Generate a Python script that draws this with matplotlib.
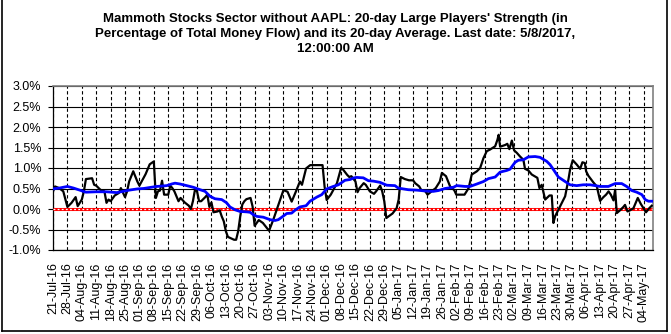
import numpy as np
import pandas as pd
import matplotlib
matplotlib.use('Agg')
import matplotlib.pyplot as plt
import matplotlib.dates as mdates
from matplotlib.lines import Line2D

plt.rcParams['font.family'] = ['Liberation Sans', 'DejaVu Sans']

first_date = pd.Timestamp('2016-07-21')
last_date = pd.Timestamp('2017-05-08')

# 20-day large players' strength (% of total money flow), days after first_date
strength_day = [0, 1, 3, 5, 7, 9, 11, 12, 14, 15, 16, 19, 20, 21, 23, 25, 26, 27, 28, 30,
                32, 33, 35, 36, 37, 39, 41, 42, 45, 47, 49, 50, 51, 52, 53, 54, 56, 57, 58, 59,
                61, 62, 64, 66, 67, 68, 69, 70, 71, 72, 74, 75, 76, 77, 78, 80, 81, 82, 83, 84,
                85, 88, 89, 90, 91, 92, 93, 94, 96, 97, 98, 100, 102, 105, 107, 109, 112, 114, 116, 118,
                120, 121, 123, 125, 131, 132, 133, 135, 138, 140, 141, 143, 144, 145, 147, 148, 149, 151, 152, 154,
                156, 157, 159, 160, 161, 162, 165, 167, 168, 169, 171, 173, 175, 176, 178, 179, 181, 182, 184, 186,
                188, 189, 191, 193, 195, 196, 200, 202, 203.5, 206, 207.6, 209.2, 210.8, 212.4, 214.9, 216, 216.6, 217.3, 219.7, 220.8,
                221.8, 223, 224.1, 225.4, 227, 228.6, 229.4, 231, 232.7, 235.4, 236.4, 237.5, 239.2, 241.3, 242.4, 243.2, 244, 245.6, 247.3, 248.9,
                250.5, 251.3, 252.6, 254.6, 256.2, 257.3, 258.5, 259.1, 260.2, 262.6, 264.3, 265.9, 267.5, 268.8, 270, 271.1, 272.4, 273.2, 274, 275.6,
                277.2, 278, 279.2, 280.5, 282.1, 284.2, 285.6, 288.2, 289.8, 291]
strength_pct = [0.43, 0.55, 0.51, 0.43, 0.05, 0.15, 0.29, 0.07, 0.23, 0.43, 0.73, 0.75, 0.59, 0.57, 0.47, 0.43, 0.15, 0.23, 0.19, 0.33,
                0.39, 0.51, 0.29, 0.43, 0.67, 0.92, 0.67, 0.57, 0.85, 1.09, 1.16, 0.27, 0.43, 0.45, 0.69, 0.35, 0.35, 0.57, 0.51, 0.43,
                0.19, 0.27, 0.16, 0.08, 0.0, 0.19, 0.47, 0.43, 0.19, 0.19, 0.29, 0.35, 0.05, 0.16, -0.08, -0.06, -0.03, -0.18, -0.30, -0.54,
                -0.68, -0.75, -0.75, -0.54, -0.18, 0.11, 0.19, 0.24, 0.27, 0.06, -0.41, -0.27, -0.34, -0.53, -0.27, 0.02, 0.46, 0.42, 0.18, 0.42,
                0.67, 0.59, 0.99, 1.07, 1.07, 0.54, 0.22, 0.35, 0.63, 1.00, 0.96, 0.83, 0.78, 0.80, 0.67, 0.41, 0.51, 0.63, 0.59, 0.43,
                0.37, 0.43, 0.57, 0.43, 0.19, -0.22, -0.11, 0.02, 0.23, 0.78, 0.73, 0.70, 0.70, 0.63, 0.55, 0.46, 0.43, 0.35, 0.43, 0.51,
                0.67, 0.88, 0.80, 0.55, 0.46, 0.35, 0.35, 0.51, 0.84, 0.92, 1.00, 1.24, 1.41, 1.45, 1.53, 1.69, 1.81, 1.52, 1.56, 1.59,
                1.46, 1.67, 1.43, 1.37, 1.28, 1.20, 0.98, 0.94, 0.84, 0.76, 0.51, 0.59, 0.23, 0.33, 0.33, -0.34, -0.18, -0.02, 0.15, 0.31,
                0.72, 0.96, 1.19, 1.08, 0.98, 1.14, 1.12, 0.92, 0.81, 0.65, 0.55, 0.20, 0.29, 0.35, 0.43, 0.35, 0.21, 0.47, -0.10, -0.03,
                0.05, 0.10, -0.06, -0.03, 0.02, 0.27, 0.13, -0.08, 0.02, 0.08]

# its 20-day average
average_day = [0, 3, 7, 10, 13, 16, 21, 26, 31, 34, 37, 41, 44, 49, 50.4, 55.3, 57.7, 59.3, 61.7, 65,
               68.2, 71.5, 73.9, 76.3, 78.7, 82, 84.4, 86, 88.5, 90.9, 94.2, 95.8, 97.4, 99, 102.2, 105.5, 107.9, 109.5, 111.2, 113.6,
               116, 117.6, 120, 123, 124.9, 128.2, 130.6, 133, 136.2, 138.7, 141.9, 144.4, 146.3, 147.6, 150.8, 153.3, 155.7, 158.9, 162.2, 166.2,
               167.8, 172.7, 176.8, 180.8, 184.8, 187.3, 190.5, 194.6, 196.2, 200.3, 202.7, 206, 209.2, 211.6, 214.9, 217.3, 220.5, 222.1, 224.6, 226.2,
               228.6, 231, 234.3, 236.7, 240, 241.6, 243.5, 245.6, 248, 251.3, 254.5, 257.7, 261, 265.9, 269.9, 273.2, 276.4, 278.8, 281.3, 283.7,
               286.2, 287.8, 289.4, 291]
average_pct = [0.49, 0.51, 0.55, 0.51, 0.46, 0.41, 0.42, 0.42, 0.40, 0.43, 0.46, 0.49, 0.50, 0.54, 0.55, 0.57, 0.61, 0.63, 0.61, 0.57,
               0.53, 0.47, 0.43, 0.31, 0.25, 0.23, 0.15, 0.05, -0.02, -0.06, -0.07, -0.08, -0.14, -0.18, -0.20, -0.26, -0.28, -0.26, -0.20, -0.11,
               -0.10, -0.03, 0.05, 0.08, 0.19, 0.29, 0.35, 0.49, 0.55, 0.59, 0.70, 0.72, 0.76, 0.77, 0.76, 0.69, 0.68, 0.65, 0.58, 0.57,
               0.51, 0.47, 0.46, 0.44, 0.43, 0.45, 0.50, 0.53, 0.57, 0.55, 0.55, 0.61, 0.67, 0.74, 0.78, 0.90, 0.94, 0.97, 1.14, 1.19,
               1.20, 1.27, 1.28, 1.26, 1.16, 1.08, 0.94, 0.78, 0.70, 0.59, 0.57, 0.59, 0.59, 0.55, 0.55, 0.62, 0.62, 0.55, 0.45, 0.41,
               0.35, 0.23, 0.19, 0.19]

title = ("Mammoth Stocks Sector without AAPL: 20-day Large Players' Strength (in\n"
         "Percentage of Total Money Flow) and its 20-day Average. Last date: 5/8/2017,\n"
         "12:00:00 AM")

strength_dates = first_date + pd.to_timedelta(strength_day, unit='D')
average_dates = first_date + pd.to_timedelta(average_day, unit='D')
zero_dates = [first_date, last_date]
week_ticks = pd.date_range(first_date, '2017-05-04', freq='7D')

fig = plt.figure(figsize=(6.71, 3.34), dpi=100)
ax = fig.add_axes([53/671, 1 - 250/334, 600/671, 164/334])

# zero line: red band of small hollow squares
ax.plot(zero_dates, [0, 0], color='#ff0000', lw=2.2, solid_capstyle='butt', zorder=3)
ax.plot(zero_dates, [0, 0], color='white', lw=0.9, ls=(0, (1.5, 1.8)),
        dash_capstyle='butt', zorder=3.1)
ax.plot(strength_dates, strength_pct, color='black', lw=1.6, zorder=4)
ax.plot(average_dates, average_pct, color='#0000ff', lw=2.0, zorder=5)

ax.set_ylim(-1.0, 3.0)
ax.set_yticks(np.arange(-1.0, 3.01, 0.5))
ax.yaxis.set_major_formatter(plt.FuncFormatter(lambda v, p: '{:.1f}%'.format(v)))
ax.set_xlim(first_date, last_date + pd.Timedelta(days=0.6))
ax.set_xticks(week_ticks)
ax.xaxis.set_major_formatter(mdates.DateFormatter('%d-%b-%y'))
ax.tick_params(axis='x', labelsize=9, rotation=90, length=0, pad=9)
ax.tick_params(axis='y', labelsize=9, length=3.5, width=0.8, pad=5)

ax.grid(axis='y', color='black', lw=0.8, ls='-')
ax.grid(axis='x', color='black', lw=0.8, ls=(0, (3, 2.2)))
ax.set_axisbelow(True)

for side in ['top', 'right']:
    ax.spines[side].set_color('#808080')
    ax.spines[side].set_linewidth(1.2)
for side in ['left', 'bottom']:
    ax.spines[side].set_color('black')
    ax.spines[side].set_linewidth(0.9)

fig.text(0.5, 1 - 34/334, title, ha='center', va='center', fontsize=9.5,
         fontweight='bold', linespacing=1.33)

# chart border
fig.add_artist(Line2D([1.5/671, 1.5/671], [1 - 331/334, 1], color='black', lw=1.2))
fig.add_artist(Line2D([667/671, 667/671], [1 - 331/334, 1], color='black', lw=1.2))
fig.add_artist(Line2D([1.5/671, 667/671], [1 - 331/334, 1 - 331/334], color='black', lw=1.2))

fig.savefig('out.png', dpi=100)
